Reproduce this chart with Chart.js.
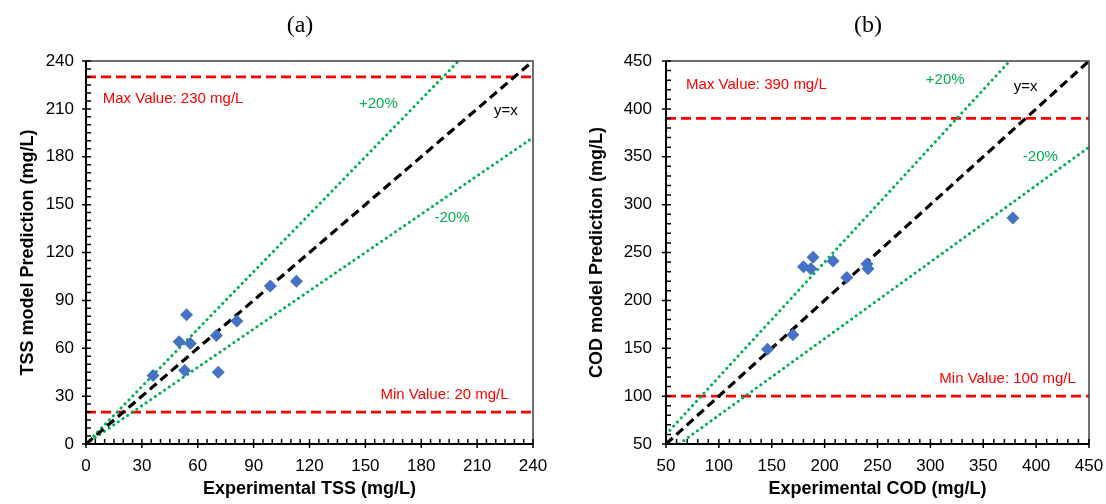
<!DOCTYPE html>
<html>
<head>
<meta charset="utf-8">
<script src="https://cdn.jsdelivr.net/npm/chart.js@4.4.1/dist/chart.umd.min.js"></script>
<style>
  html, body { margin: 0; padding: 0; background: #fff; }
  #wrap { position: relative; width: 1106px; height: 504px; }
  .box { position: absolute; top: 0; width: 553px; height: 504px; }
</style>
</head>
<body>
<div id="wrap">
  <div class="box" style="left:0"><canvas id="chartA" width="553" height="504"></canvas></div>
  <div class="box" style="left:553px"><canvas id="chartB" width="553" height="504"></canvas></div>
</div>
<script>
// Data (a) TSS
const tssExperimental = [36, 50, 54, 56, 53, 70, 71, 81, 99, 113];
const tssPredicted = [43, 64, 81, 63, 46, 68, 45, 77, 99, 102];
const tssTicks = [0, 30, 60, 90, 120, 150, 180, 210, 240];
const tssLimits = [20, 230]; // min, max

// Data (b) COD
const codExperimental = [146, 170, 180, 187, 189, 208, 221, 240, 241, 378];
const codPredicted = [149, 164, 235, 233, 245, 241, 224, 238, 233, 286];
const codTicks = [50, 100, 150, 200, 250, 300, 350, 400, 450];
const codLimits = [100, 390];

const FONT = '"Liberation Sans", Arial, sans-serif';
const GREEN = "#00B050";
const RED = "#FF0000";
const BLUE = "#4472C4";

// Ramar, små tickmarks, texter och titel
const framePlugin = {
  id: "frame",
  afterDatasetsDraw(chart, args, opts) {
    const ctx = chart.ctx;
    const a = chart.chartArea;
    const xs = chart.scales.x;
    const ys = chart.scales.y;
    ctx.save();
    // top + right border
    ctx.strokeStyle = "#404040";
    ctx.lineWidth = 1.5;
    ctx.beginPath();
    ctx.moveTo(a.left, a.top);
    ctx.lineTo(a.right, a.top);
    ctx.lineTo(a.right, a.bottom);
    ctx.stroke();
    // axes
    ctx.strokeStyle = "#000";
    ctx.lineWidth = 2;
    ctx.beginPath();
    ctx.moveTo(a.left, a.top);
    ctx.lineTo(a.left, a.bottom);
    ctx.lineTo(a.right, a.bottom);
    ctx.stroke();
    // ticks
    ctx.lineWidth = 1.5;
    ctx.beginPath();
    for (let v = xs.min; v <= xs.max + 0.01; v += opts.minor) {
      const px = xs.getPixelForValue(v);
      const major = (v - xs.min) % opts.major === 0;
      ctx.moveTo(px, a.bottom + (major ? 4 : 0));
      ctx.lineTo(px, a.bottom - 5);
    }
    for (let v = ys.min; v <= ys.max + 0.01; v += opts.minor) {
      const py = ys.getPixelForValue(v);
      const major = (v - ys.min) % opts.major === 0;
      ctx.moveTo(a.left - (major ? 4 : 0), py);
      ctx.lineTo(a.left + 5, py);
    }
    ctx.stroke();
    // notes
    ctx.font = "15px " + FONT;
    ctx.textBaseline = "middle";
    opts.notes.forEach((n) => {
      ctx.fillStyle = n.color;
      ctx.textAlign = n.align || "center";
      ctx.fillText(n.text, xs.getPixelForValue(n.x), ys.getPixelForValue(n.y));
    });
    // panel title
    ctx.fillStyle = "#000";
    ctx.font = '24px "Liberation Serif", "Times New Roman", serif';
    ctx.textAlign = "center";
    ctx.fillText(opts.title, opts.titleX, 26);
    ctx.restore();
  },
};

const toPoints = (xs, ys) => xs.map((x, i) => ({ x: x, y: ys[i] }));

const lineSet = (data, color, dash, width, cap) => ({
  type: "scatter",
  data: data,
  showLine: true,
  borderColor: color,
  backgroundColor: color,
  borderWidth: width,
  borderDash: dash,
  borderCapStyle: cap || "butt",
  pointRadius: 0,
  pointHoverRadius: 0,
});

const makeChart = (id, cfg) => {
  const [lo, hi] = [cfg.ticks[0], cfg.ticks[cfg.ticks.length - 1]];
  return new Chart(document.getElementById(id), {
    type: "scatter",
    data: {
      datasets: [
        {
          data: toPoints(cfg.xData, cfg.yData),
          pointStyle: "rectRot",
          pointRadius: 6.5,
          pointBackgroundColor: BLUE,
          pointBorderColor: BLUE,
          pointBorderWidth: 0,
        },
        lineSet([{ x: lo, y: lo }, { x: hi, y: hi }], "#000", [9, 5], 3.2),
        lineSet(cfg.plus, GREEN, [0.1, 5.5], 3, "round"),
        lineSet(cfg.minus, GREEN, [0.1, 5.5], 3, "round"),
        lineSet([{ x: lo, y: cfg.limits[1] }, { x: hi, y: cfg.limits[1] }], RED, [10, 5], 2.8),
        lineSet([{ x: lo, y: cfg.limits[0] }, { x: hi, y: cfg.limits[0] }], RED, [10, 5], 2.8),
      ],
    },
    options: {
      responsive: false,
      animation: false,
      events: [],
      layout: { padding: { top: 61, right: cfg.padRight, left: 0, bottom: 0 } },
      plugins: {
        legend: { display: false },
        tooltip: { enabled: false },
        frame: cfg.frame,
      },
      scales: {
        x: {
          type: "linear",
          min: lo,
          max: hi,
          afterBuildTicks: (s) => { s.ticks = cfg.ticks.map((v) => ({ value: v })); },
          afterFit: (s) => {
            s.height = 60;
            // layout-padding styr plotytan, inte etiketternas överhäng
            s.paddingLeft = 0;
            s.paddingRight = 0;
          },
          grid: { display: false, drawTicks: false },
          border: { display: false },
          ticks: { color: "#000", font: { family: FONT, size: 17 }, padding: 12, maxRotation: 0 },
          title: {
            display: true,
            text: cfg.xTitle,
            color: "#000",
            font: { family: FONT, size: 18, weight: "bold" },
            padding: { top: 0, bottom: 4 },
          },
        },
        y: {
          type: "linear",
          min: lo,
          max: hi,
          afterBuildTicks: (s) => { s.ticks = cfg.ticks.map((v) => ({ value: v })); },
          afterFit: (s) => { s.width = cfg.yWidth; },
          grid: { display: false, drawTicks: false },
          border: { display: false },
          ticks: { color: "#000", font: { family: FONT, size: 17 }, padding: cfg.yPad },
          title: {
            display: true,
            text: cfg.yTitle,
            color: "#000",
            font: { family: FONT, size: 18, weight: "bold" },
            padding: { top: cfg.yTitlePad, bottom: 0 },
          },
        },
      },
    },
    plugins: [framePlugin],
  });
};

makeChart("chartA", {
  xData: tssExperimental,
  yData: tssPredicted,
  ticks: tssTicks,
  limits: tssLimits,
  plus: [{ x: 0, y: 0 }, { x: 200, y: 240 }],
  minus: [{ x: 0, y: 0 }, { x: 240, y: 192 }],
  xTitle: "Experimental TSS (mg/L)",
  yTitle: "TSS model Prediction (mg/L)",
  yWidth: 86,
  yPad: 12,
  yTitlePad: 17,
  padRight: 20,
  frame: {
    minor: 5,
    major: 30,
    title: "(a)",
    titleX: 300,
    notes: [
      { text: "Max Value: 230 mg/L", x: 9, y: 216.5, color: RED, align: "left" },
      { text: "+20%", x: 157, y: 213, color: GREEN },
      { text: "y=x", x: 225.5, y: 208.5, color: "#000" },
      { text: "-20%", x: 196.5, y: 142, color: GREEN },
      { text: "Min Value: 20 mg/L", x: 192.5, y: 30.5, color: RED },
    ],
  },
});

makeChart("chartB", {
  xData: codExperimental,
  yData: codPredicted,
  ticks: codTicks,
  limits: codLimits,
  plus: [{ x: 50, y: 60 }, { x: 375, y: 450 }],
  minus: [{ x: 62.5, y: 50 }, { x: 450, y: 360 }],
  xTitle: "Experimental COD (mg/L)",
  yTitle: "COD model Prediction (mg/L)",
  yWidth: 113,
  yPad: 14,
  yTitlePad: 33,
  padRight: 17,
  frame: {
    minor: 10,
    major: 50,
    title: "(b)",
    titleX: 315,
    notes: [
      { text: "+20%", x: 314, y: 430, color: GREEN },
      { text: "y=x", x: 390, y: 423, color: "#000" },
      { text: "Max Value: 390 mg/L", x: 69, y: 425.5, color: RED, align: "left" },
      { text: "-20%", x: 404, y: 349.5, color: GREEN },
      { text: "Min Value: 100 mg/L", x: 373, y: 118.5, color: RED },
    ],
  },
});
</script>
</body>
</html>
